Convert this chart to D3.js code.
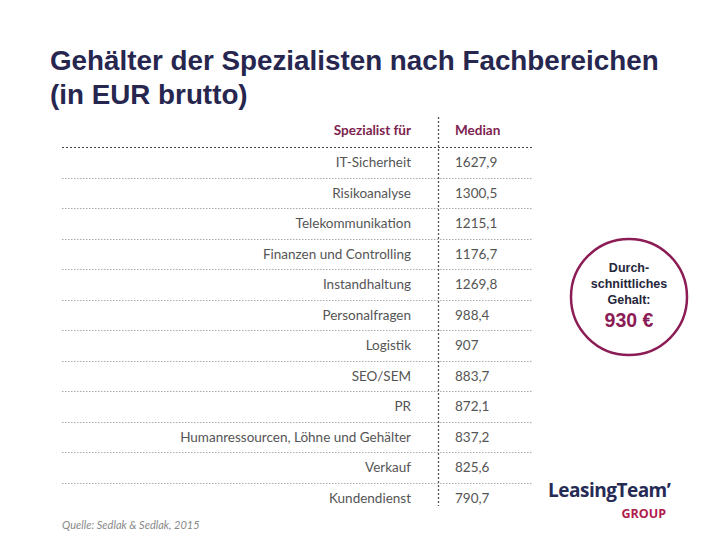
<!DOCTYPE html>
<html><head><meta charset="utf-8">
<script src="https://cdn.jsdelivr.net/npm/d3@7"></script>
<style>body{margin:0;background:#fff;}svg{display:block;}</style>
</head><body>
<div id="chart"></div>
<script>
const titleLines = ["Gehälter der Spezialisten nach Fachbereichen", "(in EUR brutto)"];
const headers = ["Spezialist für", "Median"];
const categories = ["IT-Sicherheit","Risikoanalyse","Telekommunikation","Finanzen und Controlling","Instandhaltung","Personalfragen","Logistik","SEO/SEM","PR","Humanressourcen, Löhne und Gehälter","Verkauf","Kundendienst"];
const medians = [1627.9,1300.5,1215.1,1176.7,1269.8,988.4,907,883.7,872.1,837.2,825.6,790.7];
const circleLines = ["Durch-","schnittliches","Gehalt:"];
const averageLabel = "930 €";
const sourceText = "Quelle: Sedlak & Sedlak, 2015";

const W = 720, H = 540;
const svg = d3.select("#chart").append("svg").attr("width", W).attr("height", H);

// Title
svg.append("g").selectAll("text").data(titleLines).join("text")
  .attr("x", 50).attr("y", (d,i) => 70 + i*34)
  .attr("font-family", "Liberation Sans, Arial, sans-serif").attr("font-weight", 700)
  .attr("font-size", 27.8).attr("fill", "#26264f")
  .text(d => d);

// Table
const left = 62, right = 532, divX = 438;
const y = d3.scaleBand().domain(categories).range([147, 513]).paddingInner(0).paddingOuter(0);
const bw = y.bandwidth();
const fmt = d3.formatLocale({decimal: ",", thousands: "", grouping: [3], currency: ["", " €"]}).format(".1f");
const fmtVal = v => Number.isInteger(v) ? String(v) : fmt(v);

const g = svg.append("g");
// header
g.append("text").attr("x", 411).attr("y", 135).attr("text-anchor", "end")
  .attr("font-family", "Lato, sans-serif").attr("font-weight", 700).attr("font-size", 13.5)
  .attr("fill", "#7d2350").text(headers[0]);
g.append("text").attr("x", 455).attr("y", 135)
  .attr("font-family", "Lato, sans-serif").attr("font-weight", 700).attr("font-size", 13.5)
  .attr("fill", "#7d2350").text(headers[1]);
g.append("line").attr("x1", left).attr("x2", right).attr("y1", 147.5).attr("y2", 147.5)
  .attr("stroke", "#444").attr("stroke-width", 1).attr("stroke-dasharray", "2,2");

// row separators
g.selectAll("line.sep").data(categories.slice(1)).join("line").attr("class", "sep")
  .attr("x1", left).attr("x2", right)
  .attr("y1", d => Math.round(y(d)) + 0.5).attr("y2", d => Math.round(y(d)) + 0.5)
  .attr("stroke", "#aaa").attr("stroke-width", 1).attr("stroke-dasharray", "1.5,1.5");

// vertical divider
g.append("line").attr("x1", divX + 0.5).attr("x2", divX + 0.5).attr("y1", 117).attr("y2", 506)
  .attr("stroke", "#555").attr("stroke-width", 1.3).attr("stroke-dasharray", "2,2");

g.selectAll("text.cat").data(categories).join("text").attr("class", "cat")
  .attr("x", 411).attr("y", d => y(d) + bw/2 + 5).attr("text-anchor", "end")
  .attr("font-family", "Lato, sans-serif").attr("font-size", 13.5).attr("fill", "#555")
  .text(d => d);
g.selectAll("text.val").data(medians).join("text").attr("class", "val")
  .attr("x", 455).attr("y", (d,i) => y(categories[i]) + bw/2 + 5)
  .attr("font-family", "Lato, sans-serif").attr("font-size", 13.5).attr("fill", "#555")
  .text(d => fmtVal(d));

// circle
const cx = 629, cy = 297;
svg.append("circle").attr("cx", cx).attr("cy", cy).attr("r", 58)
  .attr("fill", "#fff").attr("stroke", "#8c1c55").attr("stroke-width", 2.5);
svg.append("g").selectAll("text").data(circleLines).join("text")
  .attr("x", cx).attr("y", (d,i) => 272 + i*16).attr("text-anchor", "middle")
  .attr("font-family", "Liberation Sans, Arial, sans-serif").attr("font-size", 12.5)
  .attr("font-weight", 700).attr("fill", "#26263a")
  .text(d => d);
svg.append("text").attr("x", cx).attr("y", 327).attr("text-anchor", "middle")
  .attr("font-family", "Liberation Sans, Arial, sans-serif").attr("font-size", 19.5).attr("font-weight", 700)
  .attr("fill", "#8c1c55").text(averageLabel);

// logo
svg.append("text").attr("x", 548).attr("y", 497)
  .attr("font-family", "Open Sans, sans-serif").attr("font-weight", 700).attr("font-size", 19)
  .attr("fill", "#262b55").attr("letter-spacing", -0.5).text("LeasingTeam’");
svg.append("text").attr("x", 666).attr("y", 518).attr("text-anchor", "end")
  .attr("font-family", "Open Sans, sans-serif").attr("font-weight", 700).attr("font-size", 12.5)
  .attr("fill", "#b01c4e").text("GROUP");

// source
svg.append("text").attr("x", 62).attr("y", 529)
  .attr("font-family", "Lato, sans-serif").attr("font-style", "italic").attr("font-size", 11)
  .attr("fill", "#888").text(sourceText);
</script>
</body></html>
